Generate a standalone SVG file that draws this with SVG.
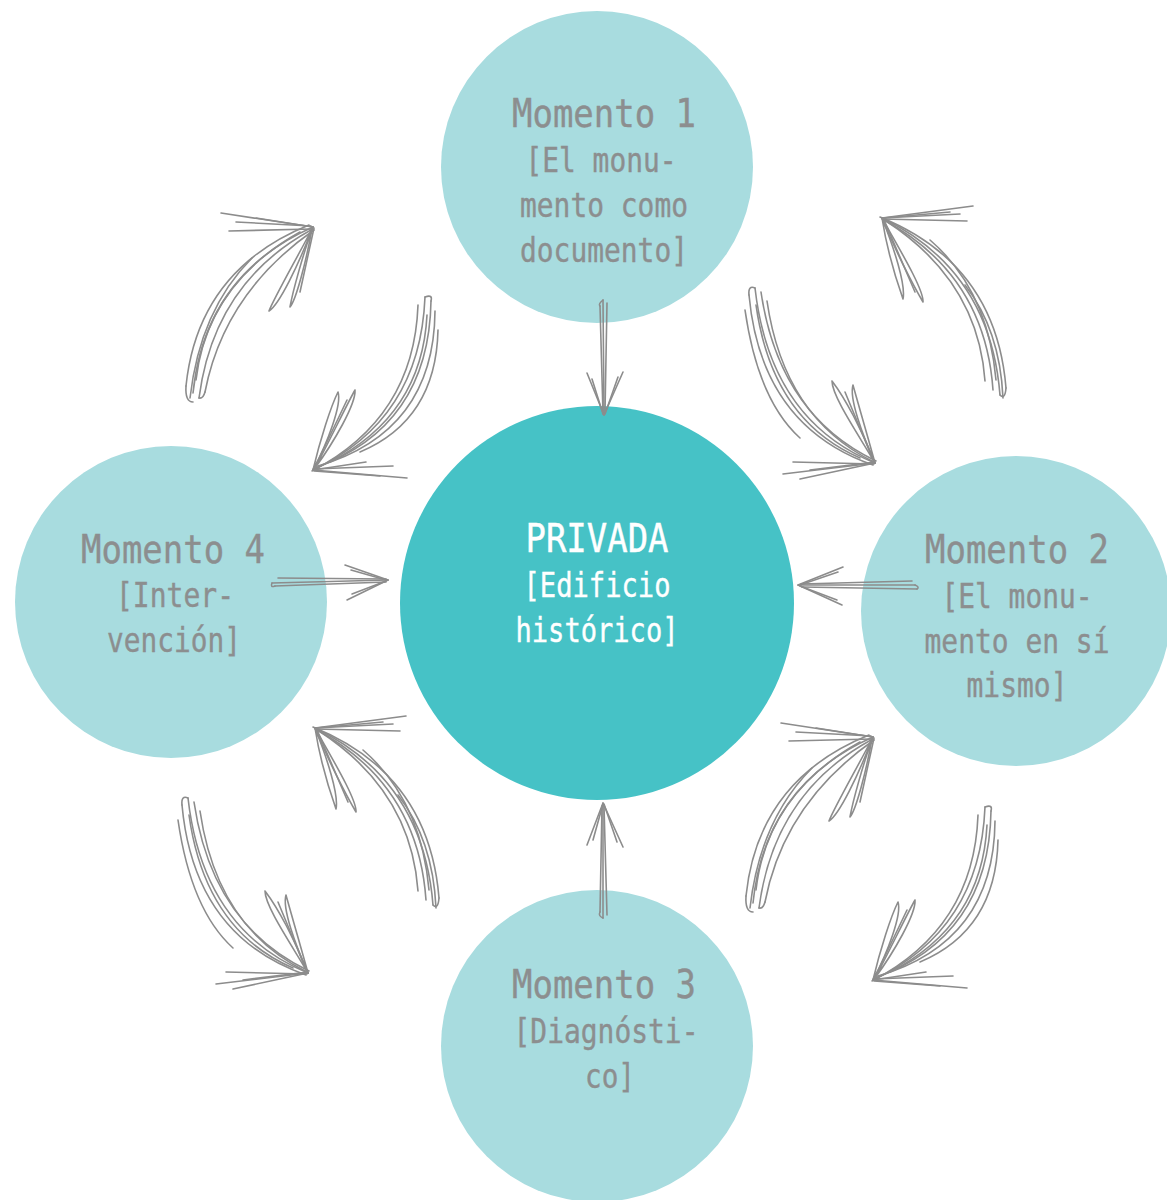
<svg xmlns="http://www.w3.org/2000/svg" xmlns:xlink="http://www.w3.org/1999/xlink" width="1167" height="1200" viewBox="0 0 1167 1200">
<style>
.outer{fill:#a8dcdf}
.core{fill:#46c2c6}
.t{font-family:"DejaVu Sans Mono","Liberation Mono",monospace;fill:#8c8e8f;stroke:#8c8e8f;stroke-width:0.4;text-anchor:middle}
.ti{font-size:39px}
.su{font-size:33px}
.w{fill:#ffffff;stroke:#ffffff}
.sk{fill:none;stroke:#8c8c8c;stroke-width:1.6;stroke-linecap:round;stroke-linejoin:round}
</style>
<defs>
<g id="pairA">
<path d="M193,393 Q205,275 313,227"/>
<path d="M199,398 Q214,283 311,230"/>
<path d="M186,386 Q198,270 309,225"/>
<path d="M205,392 Q224,293 314,230"/>
<path d="M196,380 Q207,284 300,232"/>
<path d="M190,398 Q200,310 252,258"/>
<path d="M186,386 Q185,402 193,402"/>
<path d="M205,392 Q203,399 199,398"/>
<path d="M313,227 L221,213"/>
<path d="M312,229 L229,231"/>
<path d="M313,227 L256,218"/>
<path d="M311,226 L236,222"/>
<path d="M313,227 C297,258 274,298 269,311 C279,305 298,266 313,227"/>
<path d="M312,229 C303,255 293,290 290,307 C296,300 306,262 312,229"/>
<path d="M314,228 L300,292"/>
<path d="M425,297 Q420,420 313,470"/>
<path d="M431,301 Q429,427 315,468"/>
<path d="M418,305 Q414,418 312,471"/>
<path d="M435,311 Q434,432 318,466"/>
<path d="M427,315 Q422,415 330,462"/>
<path d="M438,330 Q436,420 360,452"/>
<path d="M425,297 Q433,294 431,301"/>
<path d="M313,470 C320,440 331,406 338,392 C342,404 328,442 313,470"/>
<path d="M315,468 C330,440 346,406 355,390 C356,404 334,442 315,468"/>
<path d="M314,469 L347,400"/>
<path d="M313,470 L407,478"/>
<path d="M313,469 L393,466"/>
<path d="M314,471 L380,476"/>
<path d="M313,470 L366,462"/>
</g>
<g id="pairB">
<path d="M755,288 Q770,420 875,463"/>
<path d="M749,295 Q761,426 873,465"/>
<path d="M761,292 Q779,415 876,461"/>
<path d="M767,301 Q784,418 874,462"/>
<path d="M756,305 Q772,420 860,458"/>
<path d="M745,310 Q758,400 800,438"/>
<path d="M755,288 Q748,285 749,295"/>
<path d="M875,463 C862,430 845,398 832,381 C832,396 858,434 875,463"/>
<path d="M875,463 C866,430 857,400 853,385 C849,398 862,434 875,463"/>
<path d="M874,462 L845,392"/>
<path d="M875,463 L783,474"/>
<path d="M874,464 L793,462"/>
<path d="M875,462 L810,470"/>
<path d="M875,463 L800,479"/>
<path d="M1000,395 Q990,270 882,218"/>
<path d="M993,390 Q985,275 884,220"/>
<path d="M1006,388 Q996,264 880,217"/>
<path d="M985,381 Q978,281 886,221"/>
<path d="M996,380 Q988,290 930,240"/>
<path d="M1003,398 Q1000,330 965,285"/>
<path d="M1000,395 Q1005,400 1006,388"/>
<path d="M882,218 L973,206"/>
<path d="M882,219 L967,221"/>
<path d="M883,218 L950,212"/>
<path d="M882,218 L960,214"/>
<path d="M882,218 C887,250 897,282 903,299 C906,285 894,248 882,218"/>
<path d="M882,218 C895,250 913,285 923,302 C924,290 900,250 882,218"/>
<path d="M884,220 L915,292"/>
</g>
</defs>

<g id="node-momento1">
<circle class="outer" cx="597" cy="167" r="156"/>
<text class="t ti" x="604" y="127" textLength="184" lengthAdjust="spacingAndGlyphs">Momento 1</text>
<text class="t su" x="601" y="172" textLength="151" lengthAdjust="spacingAndGlyphs">[El monu-</text>
<text class="t su" x="604" y="217" textLength="168" lengthAdjust="spacingAndGlyphs">mento como</text>
<text class="t su" x="604" y="262" textLength="168" lengthAdjust="spacingAndGlyphs">documento]</text>
</g>

<g id="node-momento4">
<circle class="outer" cx="171" cy="602" r="156"/>
<text class="t ti" x="173" y="563" textLength="184" lengthAdjust="spacingAndGlyphs">Momento 4</text>
<text class="t su" x="175" y="607" textLength="118" lengthAdjust="spacingAndGlyphs">[Inter-</text>
<text class="t su" x="174" y="652" textLength="134" lengthAdjust="spacingAndGlyphs">vención]</text>
</g>

<g id="node-momento2">
<circle class="outer" cx="1016" cy="611" r="155"/>
<text class="t ti" x="1017" y="563" textLength="184" lengthAdjust="spacingAndGlyphs">Momento 2</text>
<text class="t su" x="1017" y="608" textLength="151" lengthAdjust="spacingAndGlyphs">[El monu-</text>
<text class="t su" x="1017" y="653" textLength="185" lengthAdjust="spacingAndGlyphs">mento en sí</text>
<text class="t su" x="1017" y="697" textLength="101" lengthAdjust="spacingAndGlyphs">mismo]</text>
</g>

<g id="node-momento3">
<circle class="outer" cx="597" cy="1046" r="156"/>
<text class="t ti" x="604" y="998" textLength="184" lengthAdjust="spacingAndGlyphs">Momento 3</text>
<text class="t su" x="606" y="1043" textLength="185" lengthAdjust="spacingAndGlyphs">[Diagnósti-</text>
<text class="t su" x="610" y="1088" textLength="50" lengthAdjust="spacingAndGlyphs">co]</text>
</g>

<g id="node-privada">
<circle class="core" cx="597" cy="603" r="197"/>
<text class="t ti w" x="597" y="552" font-size="41" textLength="143" lengthAdjust="spacingAndGlyphs">PRIVADA</text>
<text class="t su w" x="597" y="597" textLength="147" lengthAdjust="spacingAndGlyphs">[Edificio</text>
<text class="t su w" x="597" y="642" textLength="163" lengthAdjust="spacingAndGlyphs">histórico]</text>
</g>

<g id="connectors" class="sk">
<g id="arrow-m1-privada">
<path d="M603,300 L604,413"/>
<path d="M607,303 L605,412"/>
<path d="M600,306 L603,414"/>
<path d="M603,300 Q598,304 600,306"/>
<path d="M604,415 L587,373"/>
<path d="M604,415 L623,372"/>
<path d="M603,414 L592,379"/>
<path d="M605,414 L618,377"/>
</g>
<g id="arrow-m3-privada">
<path d="M603,918 L603,805"/>
<path d="M607,915 L604,806"/>
<path d="M600,912 L602,806"/>
<path d="M603,918 Q598,916 600,912"/>
<path d="M603,803 L587,845"/>
<path d="M603,803 L623,847"/>
<path d="M603,804 L593,840"/>
<path d="M604,804 L617,842"/>
</g>
<g id="arrow-m4-privada">
<path d="M272,583 L388,580"/>
<path d="M278,578 L386,579"/>
<path d="M275,586 L386,582"/>
<path d="M272,583 Q270,588 275,586"/>
<path d="M388,580 L345,565"/>
<path d="M388,580 L347,600"/>
<path d="M386,580 L351,570"/>
<path d="M386,581 L352,594"/>
</g>
<g id="arrow-m2-privada">
<path d="M915,585 L800,585"/>
<path d="M912,581 L801,584"/>
<path d="M917,589 L802,587"/>
<path d="M915,585 Q920,587 917,589"/>
<path d="M798,585 L843,567"/>
<path d="M798,585 L842,605"/>
<path d="M800,585 L838,572"/>
<path d="M800,586 L837,600"/>
</g>
<g id="cycle-m4-m1"><use xlink:href="#pairA"/></g>
<g id="cycle-m1-m2"><use xlink:href="#pairB"/></g>
<g id="cycle-m3-m4"><use xlink:href="#pairB" transform="translate(-567,510)"/></g>
<g id="cycle-m2-m3"><use xlink:href="#pairA" transform="translate(560,510)"/></g>
</g>
</svg>
